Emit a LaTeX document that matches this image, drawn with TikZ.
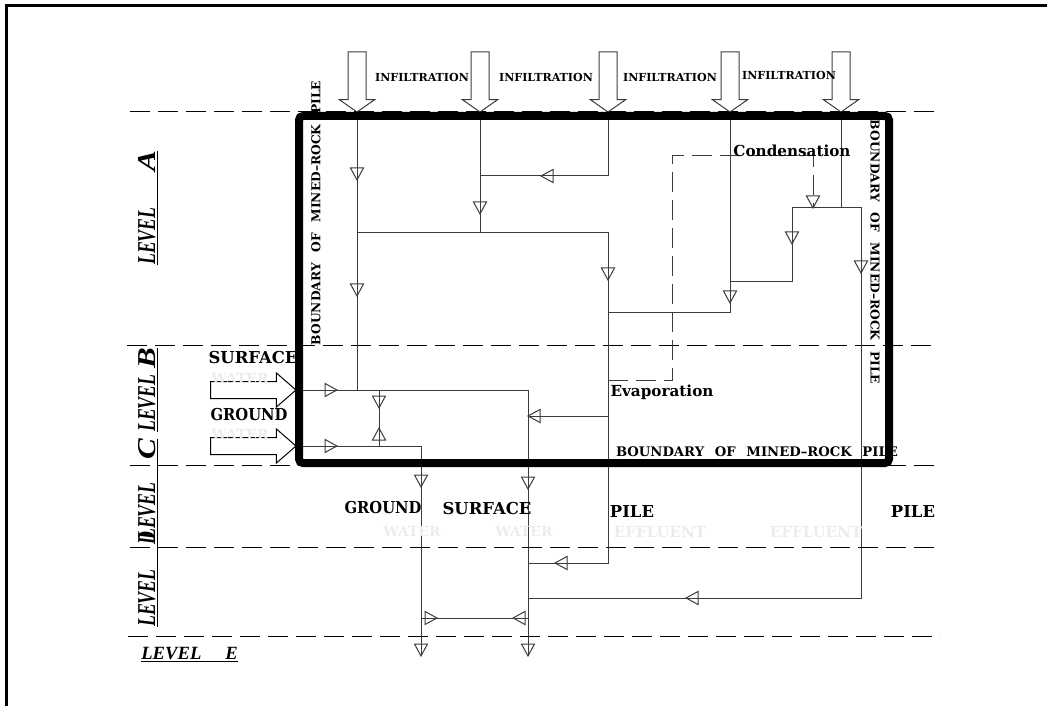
\documentclass[tikz,border=0pt]{standalone}
\usepackage{fontspec}
\usepackage{xcolor}
\usetikzlibrary{shapes.arrows}
\setmainfont{DejaVu Serif}
\newfontfamily\narrowfont[FakeStretch=0.9]{DejaVu Serif}
\newfontfamily\levelfont[FakeStretch=0.69]{Liberation Serif}
\newfontfamily\levelefont{Liberation Serif}
\definecolor{flowline}{RGB}{60,60,60}
\definecolor{ghost}{RGB}{236,236,236}
\newcommand{\bigletter}[1]{\scalebox{1.75}[1]{#1}}
\tikzset{
  flow/.style={draw=flowline, line width=0.75pt},
  wet/.style={flow, dash pattern=on 15pt off 6pt},
  levelline/.style={draw=black, line width=0.75pt, dash pattern=on 15pt off 6pt},
  downarrow/.style={draw=flowline, line width=0.75pt, single arrow, rotate=-90, anchor=tip, inner xsep=0pt, inner ysep=6.375pt, outer sep=0pt, minimum width=25.5pt, single arrow head extend=6.4pt, single arrow tip angle=110, minimum height=45pt},
  rightarrow/.style={draw=black, line width=0.75pt, single arrow, anchor=tip, inner xsep=0pt, inner ysep=6pt, outer sep=0pt, minimum width=24.75pt, single arrow head extend=6.4pt, single arrow tip angle=82, minimum height=64pt},
  lab/.style={font=\fontsize{12.3}{14}\selectfont\bfseries, inner sep=0pt},
  grlab/.style={font=\narrowfont\fontsize{12.3}{14}\selectfont\bfseries, inner sep=0pt},
  smalllab/.style={font=\fontsize{8.3}{10}\selectfont\bfseries, inner sep=0pt},
  pilelab/.style={font=\fontsize{9.2}{11}\selectfont\bfseries, inner sep=0pt},
  wordlab/.style={font=\fontsize{11.4}{13}\selectfont\bfseries, inner sep=0pt},
  waterlab/.style={font=\fontsize{10.4}{12}\selectfont\bfseries, text=ghost, inner sep=0pt},
  efflab/.style={font=\fontsize{11.3}{13}\selectfont\bfseries, text=ghost, inner sep=0pt},
  levellab/.style={font=\levelfont\fontsize{19.3}{20}\selectfont\bfseries\itshape, rotate=90, anchor=base west, inner sep=0pt},
}
\begin{document}
\begin{tikzpicture}[x=0.75pt, y=-0.75pt]
\useasboundingbox (0,0) rectangle (1047,706);
\draw[line width=2.25pt] (6,706) -- (6,6) -- (1047,6);
% level lines
\coordinate (la) at (130,112); \coordinate (lb) at (127,345); \coordinate (lc) at (130,465);
\coordinate (ld) at (130,547); \coordinate (le) at (128,636);
\draw[levelline] (la) -- (940,112);
\draw[levelline] (lb) -- (936,345);
\draw[levelline] (lc) -- (940,465);
\draw[levelline] (ld) -- (940,547);
\draw[levelline] (le) -- (940,636);
\node[levellab] (lva) at (155,265) {\underline{LEVEL\hspace{27pt}\bigletter{A}}};
\node[levellab] (lvb) at (155,432) {\underline{LEVEL\hspace{4.5pt}\bigletter{B}}};
\node[levellab] (lvc) at (155,540) {\underline{LEVEL\hspace{17pt}\bigletter{C}}};
\node[levellab] (lvd) at (155,627) {\underline{LEVEL\hspace{19pt}D}};
\node[anchor=base west, inner sep=0pt, font=\levelefont\fontsize{14}{16}\selectfont\bfseries\itshape] (lve) at (141,659) {\underline{LEVEL\hspace{18pt}E}};
% infiltration
\node[downarrow] (infa) at (357,112) {};
\node[downarrow] (infb) at (480,112) {};
\node[downarrow] (infc) at (608,112) {};
\node[downarrow] (infd) at (730,112) {};
\node[downarrow] (infe) at (841,112) {};
\node[smalllab] (ta) at (422,77) {INFILTRATION};
\node[smalllab] (tb) at (546,77) {INFILTRATION};
\node[smalllab] (tc) at (670,77) {INFILTRATION};
\node[smalllab] (td) at (789,75) {INFILTRATION};
% inflow
\node[rightarrow] (surf) at (296,390) {};
\node[rightarrow] (grnd) at (296,446) {};
\node[lab] (tsurf) at (253,358) {SURFACE};
\node[grlab] (tgrnd) at (249,415) {GROUND};
\node[waterlab] (wsurf) at (240,378) {WATER};
\node[waterlab] (wgrnd) at (240,434) {WATER};
% flow network
\coordinate (jsurf) at (357,390);
\coordinate (jmix) at (357,233);
\coordinate (jpile) at (608,233);
\coordinate (jlow) at (608,563);
\coordinate (sout) at (528,390);
\coordinate (soutb) at (528,656);
\coordinate (gout) at (421,446);
\coordinate (goutb) at (421,656);
\coordinate (jup) at (792,208);
\coordinate (jright) at (861,208);
\coordinate (jeff) at (861,598);
\draw[flow] (infa.tip) -- (jsurf);
\draw[flow] (jmix) -- (jpile) -- (jlow) -- (jlow -| sout);
\draw[flow] (infb.tip) -- (infb.tip |- jmix);
\draw[flow] (infc.tip) -- (608,176) -- (480,176);
\draw[flow] (infd.tip) -- (730,313) -- (608,313);
\draw[flow] (730,282) -- (792,282) -- (jup) -- (jright) -- (jeff) -- (jeff -| sout);
\draw[flow] (infe.tip) -- (infe.tip |- jright);
\draw[flow] (surf.tip) -- (sout) -- (soutb);
\draw[flow] (grnd.tip) -- (gout) -- (goutb);
\draw[flow] (379,390) -- (379,446);
\draw[flow] (608,416) -- (528,416);
\draw[flow] (421,618) -- (528,618);
% dashed condensation and evaporation
\draw[wet] (608,380) -- (672,380) -- (672,156) -- (813,156) -- (813,208);
% flow marks
\foreach \x/\y/\a in {357/180/-90, 357/296/-90, 480/214/-90, 608/280/-90, 730/303/-90, 792/244/-90, 813/208/-90, 861/273/-90, 421/487/-90, 528/489/-90, 421/656/-90, 528/656/-90, 379/408/-90, 541/176/180, 528/416/180, 555/563/180, 686/598/180, 513/618/180, 337/390/0, 337/446/0, 437/618/0, 379/428/90}
  \draw[flowline, line width=0.75pt, shift={(\x,\y)}, rotate=\a] (0,0) -- (-12,6.5) -- (-12,-6.5) -- cycle;
% texts
\node[pilelab, rotate=90] (bleft) at (316,213) {BOUNDARY\hspace{8pt}OF\hspace{8pt}MINED--ROCK\hspace{8pt}PILE};
\node[pilelab, rotate=-90] (bright) at (875,252) {BOUNDARY\hspace{8pt}OF\hspace{8pt}MINED--ROCK\hspace{8pt}PILE};
\node[pilelab, font=\fontsize{9.9}{12}\selectfont\bfseries] (bbottom) at (757,452) {BOUNDARY\hspace{8pt}OF\hspace{8pt}MINED--ROCK\hspace{8pt}PILE};
\node[wordlab] (tcond) at (792,151) {Condensation};
\node[wordlab] (tevap) at (662,392) {Evaporation};
\node[grlab] (lgrnd) at (383,508) {GROUND};
\node[lab] (lsurf) at (487,509) {SURFACE};
\node[lab] (lpa) at (632,512) {PILE};
\node[lab] (lpb) at (913,512) {PILE};
\node[waterlab] (wa) at (412,531) {WATER};
\node[waterlab] (wb) at (524,531) {WATER};
\node[efflab] (ea) at (660,532) {EFFLUENT};
\node[efflab] (eb) at (816,532) {EFFLUENT};
\node[draw, line width=6pt, rounded corners=3pt, minimum width=442.5pt, minimum height=260.25pt, inner sep=0pt] (pile) at (594,289.5) {};
\end{tikzpicture}
\end{document}
